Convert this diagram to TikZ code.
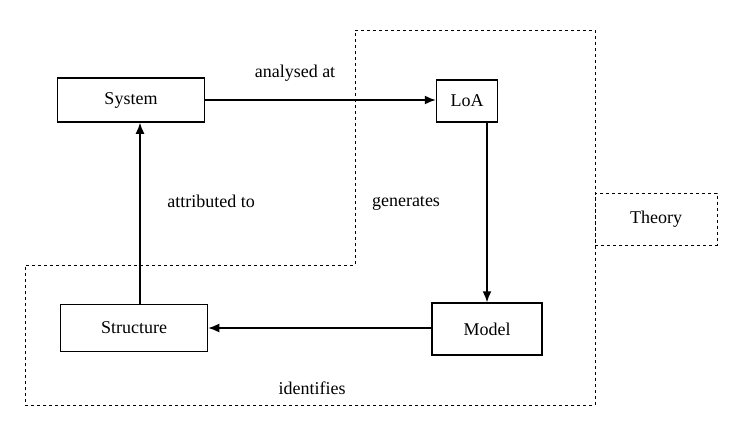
\documentclass[tikz,border=0pt]{standalone}
\usepackage{fontspec}
\setmainfont{Liberation Serif}
\usetikzlibrary{arrows.meta}
\tikzset{
  box/.style={draw, line width=1.5pt, minimum height=44pt, inner sep=0pt},
  lbl/.style={inner sep=0pt},
  link/.style={line width=1.5pt, -{Latex[length=11pt,width=9pt]}}
}
\begin{document}
\begin{tikzpicture}[x=1pt,y=-1pt,font=\fontsize{18}{21}\selectfont]
		\useasboundingbox (0,0) rectangle (733,429);
		% Boxen
		\node [box, minimum width=147pt] (system) at (131,100) {System};
		\node [box, minimum width=61pt, minimum height=42pt] (loa) at (467,101) {LoA};
		\node [box, minimum width=147pt, minimum height=47pt] (structure) at (134,328) {Structure};
		\node [box, minimum width=110pt, minimum height=52pt] (model) at (487,329) {Model};
		\node [box, dashed, line width=1pt, minimum width=122pt, minimum height=52pt] (theory) at (656,219) {Theory};
		% Theoriebereich
		\draw [line width=1pt, dashed] (355,30) -- (595,30) -- (595,405) -- (25,405) -- (25,265) -- (355,265) -- cycle;
		% Pfeile und Beschriftungen
		\draw [link] (system.east) -- (system.east -| loa.west);
		\draw [link] (487,122) -- (model.north);
		\draw [link] (model.west |- structure.east) -- (structure.east);
		\draw [link] (structure.north -| 140,0) -- (system.south -| 140,0);
		\node [lbl] (analysed) at (295,73) {analysed at};
		\node [lbl] (attributed) at (211,201) {attributed to};
		\node [lbl] (generates) at (406,203) {generates};
		\node [lbl] (identifies) at (312,388) {identifies};
\end{tikzpicture}
\end{document}
